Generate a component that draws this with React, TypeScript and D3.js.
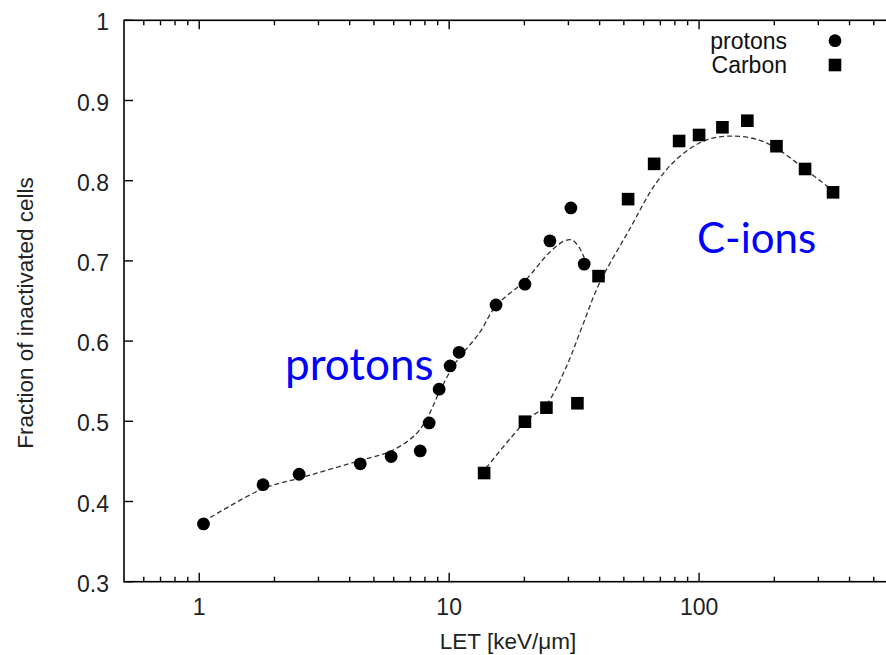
import React from "react";
import * as d3 from "d3";

// ---- Data ----
const protonLET = [1.04, 1.8, 2.51, 4.41, 5.86, 7.66, 8.32, 9.12, 10.09, 10.96, 15.4, 20.1, 25.3, 30.7, 34.7];
const protonFrac = [0.372, 0.421, 0.434, 0.447, 0.456, 0.463, 0.498, 0.54, 0.569, 0.586, 0.645, 0.671, 0.725, 0.766, 0.696];

const carbonLET = [13.8, 20.1, 24.5, 32.6, 39.6, 52, 66.1, 83.2, 100, 124, 156, 204, 265.5, 343.6];
const carbonFrac = [0.4355, 0.4995, 0.517, 0.5225, 0.681, 0.777, 0.821, 0.8495, 0.857, 0.8666, 0.8748, 0.843, 0.8146, 0.7855];

// dashed fit curves (traced points)
const protonFitLET = [1.04, 1.8, 2.51, 4.49, 5.86, 7.37, 8.32, 9.12, 10.6, 13.2, 15.4, 20.2, 25.1, 28.9, 31.0, 33.1, 34.7];
const protonFitFrac = [0.375, 0.416, 0.429, 0.452, 0.463, 0.484, 0.509, 0.536, 0.573, 0.61, 0.644, 0.676, 0.71, 0.725, 0.726, 0.717, 0.704];

const carbonFitLET = [14.06, 20.3, 24.4, 29.4, 34.0, 39.8, 52.5, 67.3, 83.2, 106.7, 135.5, 173.8, 208.9, 267.9, 340.4];
const carbonFitFrac = [0.4418, 0.5004, 0.5203, 0.5677, 0.6176, 0.6712, 0.7385, 0.797, 0.8296, 0.8507, 0.8557, 0.8507, 0.8383, 0.8133, 0.7884];

const yTicks = [0.3, 0.4, 0.5, 0.6, 0.7, 0.8, 0.9, 1];
const yTickLabels = ["0.3", "0.4", "0.5", "0.6", "0.7", "0.8", "0.9", "1"];
const xMajorTicks = [1, 10, 100];
const xMajorLabels = ["1", "10", "100"];
const xMinorTicks = [0.6, 0.7, 0.8, 0.9, 2, 3, 4, 5, 6, 7, 8, 9, 20, 30, 40, 50, 60, 70, 80, 90, 200, 300, 400, 500, 600, 700, 800, 900];

const legendLabels = ["protons", "Carbon"];
const xTitle = "LET [keV/\u03bcm]";
const yTitle = "Fraction of inactivated cells";

export default function App() {
  const W = 886, H = 655;
  const left = 124, right = 949, top = 20.3, bottom = 581.7;
  const x = d3.scaleLog().domain([0.5, 1000]).range([left, right]);
  const y = d3.scaleLinear().domain([0.3, 1]).range([bottom, top]);
  const font = "'Liberation Sans', Arial, Helvetica, sans-serif";

  const line = d3
    .line<[number, number]>()
    .x((d) => x(d[0]))
    .y((d) => y(d[1]))
    .curve(d3.curveCatmullRom.alpha(0.5));

  const pFit = protonFitLET.map((v, i) => [v, protonFitFrac[i]] as [number, number]);
  const cFit = carbonFitLET.map((v, i) => [v, carbonFitFrac[i]] as [number, number]);

  const sq = 12.6;
  const r = 6.4;

  return (
    <svg
      width={W}
      height={H}
      style={{ position: "absolute", left: 0, top: 0, display: "block", background: "#fff" }}
    >
      <rect x={0} y={0} width={W} height={H} fill="#fff" />
      {/* frame */}
      <rect x={left} y={top} width={right - left} height={bottom - top} fill="none" stroke="#000" strokeWidth={1.6} />

      {/* y ticks */}
      {yTicks.map((t, i) => (
        <g key={"y" + i}>
          <line x1={left} x2={left + 9} y1={y(t)} y2={y(t)} stroke="#000" strokeWidth={1.4} />
          <line x1={right} x2={right - 9} y1={y(t)} y2={y(t)} stroke="#000" strokeWidth={1.4} />
          <text
            x={left - 15}
            y={y(t) + 2}
            textAnchor="end"
            dominantBaseline="central"
            fontFamily={font}
            fontSize={23}
            fill="#222"
          >
            {yTickLabels[i]}
          </text>
        </g>
      ))}

      {/* x ticks */}
      {xMajorTicks.map((t, i) => (
        <g key={"xM" + i}>
          <line x1={x(t)} x2={x(t)} y1={bottom} y2={bottom - 9} stroke="#000" strokeWidth={1.4} />
          <line x1={x(t)} x2={x(t)} y1={top} y2={top + 9} stroke="#000" strokeWidth={1.4} />
          <text x={x(t)} y={615} textAnchor="middle" fontFamily={font} fontSize={23} fill="#222">
            {xMajorLabels[i]}
          </text>
        </g>
      ))}
      {xMinorTicks.map((t, i) => (
        <g key={"xm" + i}>
          <line x1={x(t)} x2={x(t)} y1={bottom} y2={bottom - 5} stroke="#000" strokeWidth={1.4} />
          <line x1={x(t)} x2={x(t)} y1={top} y2={top + 5} stroke="#000" strokeWidth={1.4} />
        </g>
      ))}

      {/* axis titles */}
      <text x={508} y={649} textAnchor="middle" fontFamily={font} fontSize={22.5} fill="#222">
        {xTitle}
      </text>
      <text
        transform={`translate(33,313) rotate(-90)`}
        textAnchor="middle"
        fontFamily={font}
        fontSize={22.5}
        fill="#222"
      >
        {yTitle}
      </text>

      {/* fit curves */}
      <path d={line(pFit) || ""} fill="none" stroke="#333" strokeWidth={1.3} strokeDasharray="5,3" />
      <path d={line(cFit) || ""} fill="none" stroke="#333" strokeWidth={1.3} strokeDasharray="5,3" />

      {/* points */}
      {protonLET.map((v, i) => (
        <circle key={"p" + i} cx={x(v)} cy={y(protonFrac[i])} r={r} fill="#000" />
      ))}
      {carbonLET.map((v, i) => (
        <rect
          key={"c" + i}
          x={x(v) - sq / 2}
          y={y(carbonFrac[i]) - sq / 2}
          width={sq}
          height={sq}
          fill="#000"
        />
      ))}

      {/* legend */}
      <text x={787} y={48.5} textAnchor="end" fontFamily={font} fontSize={23} fill="#111">
        {legendLabels[0]}
      </text>
      <circle cx={835} cy={40.7} r={r} fill="#000" />
      <text x={787} y={72.5} textAnchor="end" fontFamily={font} fontSize={23} fill="#111">
        {legendLabels[1]}
      </text>
      <rect x={835 - sq / 2} y={65 - sq / 2} width={sq} height={sq} fill="#000" />

      {/* annotations */}
      <text x={285} y={380} fontFamily="Lato, 'Open Sans', sans-serif" fontSize={44} fill="#0000ff">
        protons
      </text>
      <text x={697} y={253} fontFamily="Lato, 'Open Sans', sans-serif" fontSize={42} fill="#0000ff">
        C-ions
      </text>
    </svg>
  );
}
